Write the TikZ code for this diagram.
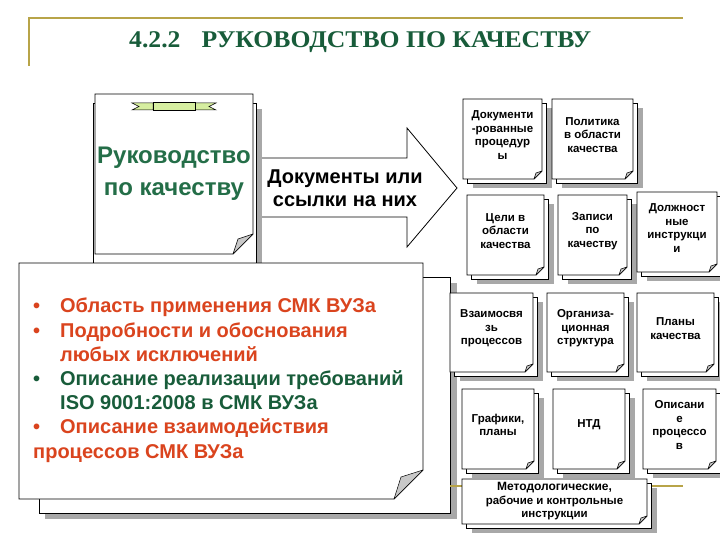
\documentclass[tikz,border=0pt]{standalone}
\usepackage{fontspec}
\setmainfont{Liberation Sans}
\newfontfamily\titlefont[FakeStretch=1.07]{Liberation Serif}
\usetikzlibrary{positioning}
\definecolor{goldline}{RGB}{184,164,72}
\definecolor{titlegreen}{RGB}{24,92,58}
\definecolor{docgreen}{RGB}{36,110,72}
\definecolor{bulletred}{RGB}{218,68,30}
\definecolor{shadowgray}{RGB}{168,168,168}
\definecolor{foldgray}{RGB}{200,200,200}
\definecolor{ribbongreen}{RGB}{214,238,160}

\tikzset{
  sheet/.style={draw=black, fill=white, line width=0.8pt},
  shade/.style={fill=shadowgray},
  fold/.style={draw=black, fill=foldgray, line width=0.5pt, line join=round},
  doctext/.style={align=center, inner sep=0pt,
    font=\bfseries\fontsize{11.5}{13.5}\selectfont},
}

%% small paper: [text shift], name, x0, y0, x1, y1, text
\newcommand{\smalldoc}[7][-4]{%
  \fill[shade] ({#3+10},{#4+9}) rectangle ({#5+10},{#6+9});
  \draw[sheet] ({#3+4},{#4+4}) rectangle ({#5+4},{#6+4});
  \draw[sheet] (#3,#4) -- (#5,#4) -- (#5,{#6-8}) -- ({#5-8},#6) -- (#3,#6) -- cycle;
  \draw[fold] (#5,{#6-8}) -- ({#5-8},#6) -- ({#5-6},{#6-6}) -- cycle;
  \node[doctext] (#2) at ({(#3+#5)/2},{(#4+#6)/2+#1}) {#7};
}

\begin{document}
\begin{tikzpicture}[x=1pt, y=-1pt]
    \useasboundingbox (0,0) rectangle (720,540);
    %% frame lines
    \draw[goldline, line width=2pt] (29,66) -- (29,18) -- (683,18);
    \node[font=\titlefont\bfseries\fontsize{24}{24}\selectfont, text=titlegreen,
      anchor=west, inner sep=0pt] (title) at (129,42)
      {4.2.2\hspace{21pt}РУКОВОДСТВО ПО КАЧЕСТВУ};
    %% block arrow
    \draw[sheet] (258,158) -- (407,158) -- (407,128) -- (457,188) -- (407,247)
      -- (407,217) -- (258,217) -- cycle;
    \node[font=\bfseries\fontsize{20}{23}\selectfont, align=center, inner sep=0pt]
      (refs) at (345,188.5) {Документы или\\ссылки на них};
    %% manual
    \fill[shade] (99,109) rectangle (262,275);
    \draw[sheet] (93,103) rectangle (256,270);
    \draw[sheet] (95,94) -- (253,94) -- (253,234) -- (233,254) -- (95,254) -- cycle;
    \draw[fold] (253,234) -- (233,254) -- (238,239) -- cycle;
    \draw[fill=ribbongreen, line width=0.5pt] (132,103) -- (153,103) -- (153,110)
      -- (132,110) -- (139,106.5) -- cycle;
    \draw[fill=ribbongreen, line width=0.5pt] (195,103) -- (216,103) -- (209,106.5)
      -- (216,110) -- (195,110) -- cycle;
    \draw[fill=ribbongreen, line width=0.5pt] (153,102.5) rectangle (195,110.5);
    \node[font=\bfseries\fontsize{24}{32}\selectfont, text=docgreen, align=center,
      inner sep=0pt] (manual) at (174,174) {Руководство\\по качеству};
    %% contents of the manual
    \fill[shade] (45,283) rectangle (457,519);
    \draw[sheet] (39,277) rectangle (450,513);
    \draw[sheet] (19,263) -- (423,263) -- (423,470) -- (394,499) -- (19,499) -- cycle;
    \draw[fold] (423,470) -- (394,499) -- (401,477) -- cycle;
    \node[font=\bfseries\fontsize{20}{24.2}\selectfont, text=bulletred, align=left,
      anchor=north west, inner sep=0pt] (contents) at (33,298)
      {\makebox[27pt][l]{\textbullet}Область применения СМК ВУЗа\\
       \makebox[27pt][l]{\textbullet}Подробности и обоснования\\
       \hspace*{27pt}любых исключений\\
       \textcolor{titlegreen}{\makebox[27pt][l]{\textbullet}Описание реализации требований}\\
       \textcolor{titlegreen}{\hspace*{27pt}ISO 9001:2008 в СМК ВУЗа}\\
       \makebox[27pt][l]{\textbullet}Описание взаимодействия\\
       процессов СМК ВУЗа};
    \draw[goldline, line width=2pt] (450,486) -- (683,486);
    %% documents of the system
    \smalldoc{docproc}{463}{99}{542}{179}{Документи\\-рованные\\процедур\\ы}
    \smalldoc{policy}{552}{99}{633}{179}{Политика\\в области\\качества}
    \smalldoc{goals}{467}{195}{544}{275}{Цели в\\области\\качества}
    \smalldoc{records}{558}{195}{627}{275}{Записи\\по\\качеству}
    \smalldoc{jobdesc}{637}{192}{717}{272}{Должност\\ные\\инструкци\\и}
    \smalldoc{interact}{450}{293}{533}{372}{Взаимосвя\\зь\\процессов}
    \smalldoc{orgstruct}{547}{293}{624}{372}{Организа-\\ционная\\структура}
    \smalldoc{qplans}{637}{293}{714}{372}{Планы\\качества}
    \smalldoc{schedules}{462}{389}{534}{469}{Графики,\\планы}
    \smalldoc{ntd}{553}{389}{625}{469}{НТД}
    \smalldoc{procdesc}{643}{389}{716}{469}{Описани\\е\\процессо\\в}
    \smalldoc[0]{methinstr}{462}{479}{647}{524}{\fontsize{12}{15}\selectfont
      Методологические,\\рабочие и контрольные\\инструкции}
\end{tikzpicture}
\end{document}
